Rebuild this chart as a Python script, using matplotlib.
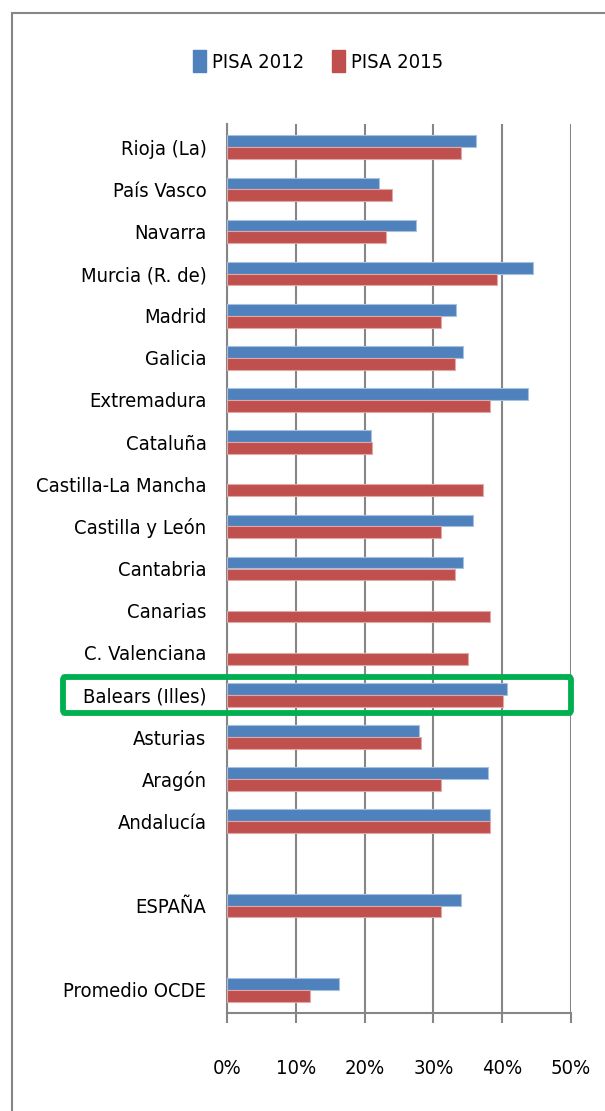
import matplotlib.pyplot as plt
import numpy as np
from matplotlib.patches import Patch, Rectangle, FancyBboxPatch

# datos (porcentaje)
regiones = ['Rioja (La)', 'País Vasco', 'Navarra', 'Murcia (R. de)', 'Madrid', 'Galicia',
            'Extremadura', 'Cataluña', 'Castilla-La Mancha', 'Castilla y León', 'Cantabria',
            'Canarias', 'C. Valenciana', 'Balears (Illes)', 'Asturias', 'Aragón', 'Andalucía',
            '', 'ESPAÑA', '', 'Promedio OCDE']
pisa2012 = [36.2, 22.1, 27.5, 44.5, 33.3, 34.3, 43.8, 20.9, np.nan, 35.8, 34.3,
            np.nan, np.nan, 40.7, 27.9, 37.9, 38.2, np.nan, 34.1, np.nan, 16.3]
pisa2015 = [34.1, 24.0, 23.1, 39.2, 31.1, 33.1, 38.2, 21.1, 37.2, 31.1, 33.1,
            38.2, 35.0, 40.2, 28.2, 31.1, 38.2, np.nan, 31.1, np.nan, 12.1]
ticks_x = [0, 10, 20, 30, 40, 50]

azul = '#4F81BD'
rojo = '#C0504D'
gris = '#868686'
plt.rcParams['font.family'] = ['DejaVu Sans']
plt.rcParams['font.stretch'] = 'condensed'

W, H = 605, 1111
fig = plt.figure(figsize=(W/100, H/100), dpi=100)
ax = fig.add_axes([227.3/W, 1-1013/H, (570.7-227.3)/W, (1013-124)/H])

y = np.arange(len(regiones))
h = 0.28
ax.barh(y - h/2, pisa2012, height=h, color=azul, edgecolor='#A7C0DE', linewidth=0.8, zorder=3)
ax.barh(y + h/2, pisa2015, height=h, color=rojo, edgecolor='#E0A8A6', linewidth=0.8, zorder=3)

fs = 14.5
ax.set_ylim(len(regiones) - 0.45, -0.55)
ax.set_xlim(0, 50)
ax.set_xticks(ticks_x)
ax.set_xticklabels([f'{t}%' for t in ticks_x], fontsize=fs)
ax.set_yticks(y)
ax.set_yticklabels(regiones, fontsize=fs)
ax.tick_params(axis='y', length=0, pad=15)
ax.tick_params(axis='x', length=7, width=1.5, color=gris, pad=26)
ax.grid(axis='x', color=gris, linewidth=1.5, zorder=0)
for s in ['top', 'right']:
    ax.spines[s].set_visible(False)
for s in ['left', 'bottom']:
    ax.spines[s].set_color(gris)
    ax.spines[s].set_linewidth(1.5)

# leyenda
fig.legend(handles=[Patch(color=azul, label='PISA 2012'), Patch(color=rojo, label='PISA 2015')],
           loc='center', bbox_to_anchor=(318/W, 1-61/H), ncol=2, frameon=False, fontsize=fs,
           handlelength=0.65, handleheight=1.3, handletextpad=0.3, columnspacing=1.4)

# marco exterior
fig.patches.append(Rectangle((12/W, -0.1), 1.2, 1-13/H+0.1, transform=fig.transFigure,
                             fill=False, edgecolor=gris, linewidth=1.5))

# recuadro verde Baleares
fig.patches.append(FancyBboxPatch((63/W, 1-713/H), (571-63)/W, 36/H,
                                  boxstyle='round,pad=0,rounding_size=0.003',
                                  transform=fig.transFigure, fill=False,
                                  edgecolor='#00B050', linewidth=4.2, zorder=10))

fig.savefig('out.png', dpi=100)
